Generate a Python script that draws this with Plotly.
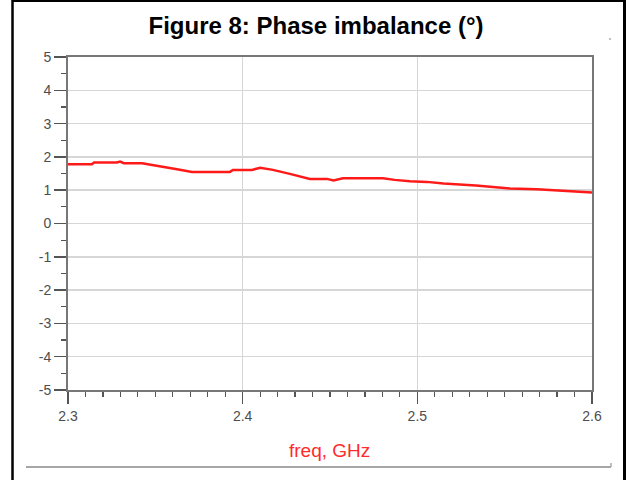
import plotly.graph_objects as go

freq_ghz = [2.300, 2.3137, 2.3149, 2.328, 2.3298, 2.332, 2.3424, 2.3487, 2.3567, 2.3624,
            2.371, 2.3927, 2.3944, 2.4053, 2.41, 2.4173, 2.427, 2.4385, 2.4483, 2.452,
            2.4574, 2.4803, 2.487, 2.4958, 2.5055, 2.515, 2.5335, 2.553, 2.5685, 2.588, 2.600]
phase_deg = [1.78, 1.78, 1.83, 1.83, 1.86, 1.81, 1.81, 1.76, 1.69, 1.63,
             1.55, 1.55, 1.61, 1.61, 1.67, 1.61, 1.49, 1.34, 1.34, 1.29,
             1.36, 1.36, 1.31, 1.27, 1.25, 1.20, 1.14, 1.05, 1.03, 0.97, 0.93]

x_ticks = [2.3, 2.4, 2.5, 2.6]
x_tick_labels = ["2.3", "2.4", "2.5", "2.6"]
y_ticks = [-5, -4, -3, -2, -1, 0, 1, 2, 3, 4, 5]
y_tick_labels = ["-5", "-4", "-3", "-2", "-1", "0", "1", "2", "3", "4", "5"]

W, H = 632, 480
PL, PR, PT, PB = 68, 592, 57, 390  # plot area in page pixels
L, T = PL, PT
R, B = W - PR, H - PB
PW, PH = PR - PL, PB - PT


def px(x):
    return (x - PL) / PW


def py(y):
    return (PB - y) / PH


fig = go.Figure()
fig.add_trace(go.Scatter(x=freq_ghz, y=phase_deg, mode="lines",
                         line=dict(color="#ff1a1a", width=2.5), showlegend=False,
                         hoverinfo="skip"))

tickfont = dict(family="Arial", size=14, color="#4d4d4d")
fig.update_xaxes(range=[2.3, 2.6], tickvals=x_ticks, ticktext=x_tick_labels,
                 ticks="outside", ticklen=12, tickcolor="#555555", tickwidth=1.5,
                 minor=dict(dtick=0.01, ticks="outside", ticklen=5, tickcolor="#555555",
                            tickwidth=1.2, showgrid=False),
                 showline=True, linecolor="#777777", linewidth=2, mirror=True,
                 showgrid=True, gridcolor="#d6d6d6", gridwidth=1.5,
                 tickfont=tickfont, zeroline=False, fixedrange=True, automargin=False)
fig.update_yaxes(range=[-5, 5], tickvals=y_ticks, ticktext=y_tick_labels,
                 ticks="outside", ticklen=12, tickcolor="#555555", tickwidth=1.5,
                 minor=dict(dtick=0.5, ticks="outside", ticklen=5, tickcolor="#555555",
                            tickwidth=1.2, showgrid=False),
                 showline=True, linecolor="#777777", linewidth=2, mirror=True,
                 showgrid=True, gridcolor="#d6d6d6", gridwidth=1.5,
                 tickfont=tickfont, zeroline=False, fixedrange=True, automargin=False)


def hline(x0, x1, y, color, width):
    return dict(type="line", xref="paper", yref="paper", x0=px(x0), x1=px(x1),
                y0=py(y), y1=py(y), line=dict(color=color, width=width), layer="above")


def vline(x, y0, y1, color, width):
    return dict(type="line", xref="paper", yref="paper", x0=px(x), x1=px(x),
                y0=py(y0), y1=py(y1), line=dict(color=color, width=width), layer="above")


shapes = [
    # outer black frame
    vline(12.5, 0, 480, "black", 2.5),
    vline(624.5, 0, 480, "black", 3),
    hline(12, 626, 1, "black", 2),
    # gray bottom line of inner panel
    hline(26, 611, 467, "#888888", 1.5),
    vline(611, 467, 463, "#aaaaaa", 1.5),
    vline(610, 38, 40, "#aaaaaa", 1.5),
]

fig.update_layout(
    width=W, height=H,
    margin=dict(l=L, r=R, t=T, b=B, autoexpand=False),
    paper_bgcolor="white", plot_bgcolor="white",
    title=dict(text="<b>Figure 8: Phase imbalance (°)</b>", x=316 / W, xref="container",
               y=1 - 26 / H, yref="container", xanchor="center", yanchor="middle",
               font=dict(family="Arial", size=24, color="black")),
    shapes=shapes,
    annotations=[dict(text="freq, GHz", xref="paper", yref="paper", x=px(329), y=py(450),
                      xanchor="center", yanchor="middle", showarrow=False,
                      font=dict(family="Arial", size=19, color="#ff2a2a"))],
)

fig.write_html("out.html", config={"displayModeBar": False, "staticPlot": True},
               post_script="document.body.style.margin='0';document.body.style.overflow='hidden';")
